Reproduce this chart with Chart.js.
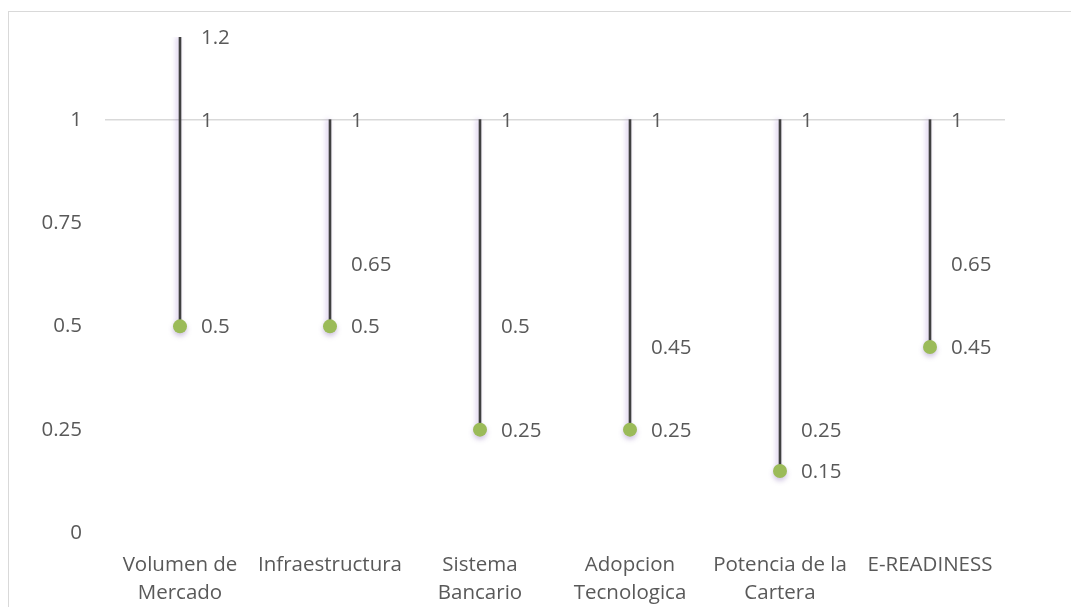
<!DOCTYPE html>
<html>
<head>
<meta charset="utf-8">
<script src="https://cdn.jsdelivr.net/npm/chart.js@4/dist/chart.umd.min.js"></script>
<style>
  html, body { margin: 0; padding: 0; background: #fff; }
  #wrap { position: relative; width: 1071px; height: 607px; overflow: hidden; }
  #frame { position: absolute; left: 8px; top: 11px; width: 1080px; height: 620px;
           border-top: 1.5px solid #d9d9d9; border-left: 1.5px solid #d9d9d9; }
  canvas { position: absolute; left: 0; top: 0; }
</style>
</head>
<body>
<div id="wrap">
  <div id="frame"></div>
  <canvas id="c" width="1071" height="607"></canvas>
</div>
<script>
// Categories and the three series of the high-low-close chart
const categories = [
  ['Volumen de', 'Mercado'],
  'Infraestructura',
  ['Sistema', 'Bancario'],
  ['Adopcion', 'Tecnologica'],
  ['Potencia de la', 'Cartera'],
  'E-READINESS'
];
const highValues  = [1.2, 1, 1, 1, 1, 1];
const lowValues   = [1, 0.65, 0.5, 0.45, 0.25, 0.65];
const closeValues = [0.5, 0.5, 0.25, 0.25, 0.15, 0.45];
const yTicks = [0, 0.25, 0.5, 0.75, 1];

const FONT = '"Open Sans", Lato, sans-serif';
const FONT_SIZE = 20.5;
const TEXT = '#595959';

// Vertical range for each category spans all three values
const ranges = categories.map((_, i) => {
  const v = [highValues[i], lowValues[i], closeValues[i]];
  return [Math.min(...v), Math.max(...v)];
});

// Value labels to the right of each stem
const valueLabels = {
  id: 'valueLabels',
  afterDatasetsDraw(chart) {
    const ctx = chart.ctx;
    const xs = chart.scales.x, ys = chart.scales.y;
    ctx.save();
    ctx.font = FONT_SIZE + 'px ' + FONT;
    ctx.fillStyle = TEXT;
    ctx.textAlign = 'left';
    ctx.textBaseline = 'middle';
    [highValues, lowValues, closeValues].forEach(series => {
      series.forEach((v, i) => {
        const x = xs.getPixelForValue(i) + 21;
        const y = ys.getPixelForValue(v) + 1;
        ctx.fillText(String(v), x, y);
      });
    });
    ctx.restore();
  }
};

// Soft shadow under stems and markers
const softShadow = {
  id: 'softShadow',
  beforeDatasetDraw(chart, args) {
    const ctx = chart.ctx;
    ctx.save();
    if (args.index === 0) {
      ctx.shadowColor = 'rgba(140,100,200,0.45)';
      ctx.shadowBlur = 5;
      ctx.shadowOffsetX = -2;
      ctx.shadowOffsetY = 0;
    } else {
      ctx.shadowColor = 'rgba(120,90,170,0.35)';
      ctx.shadowBlur = 5;
      ctx.shadowOffsetX = 0;
      ctx.shadowOffsetY = 3;
    }
  },
  afterDatasetDraw(chart) {
    chart.ctx.restore();
  }
};

new Chart(document.getElementById('c'), {
  data: {
    labels: categories,
    datasets: [
      {
        type: 'bar',
        data: ranges,
        backgroundColor: '#404040',
        borderWidth: 0,
        barThickness: 2,
        grouped: false,
        order: 2
      },
      {
        type: 'line',
        data: closeValues,
        showLine: false,
        pointRadius: 7,
        pointHoverRadius: 7,
        pointBackgroundColor: '#9bbb59',
        pointBorderWidth: 0,
        order: 1
      }
    ]
  },
  options: {
    responsive: false,
    animation: false,
    events: [],
    layout: { padding: { left: 0, right: 66, top: 37, bottom: 0 } },
    plugins: { legend: { display: false }, tooltip: { enabled: false } },
    scales: {
      x: {
        offset: true,
        grid: { display: false, drawTicks: false },
        border: { display: false },
        ticks: {
          color: TEXT,
          font: { family: FONT, size: FONT_SIZE, lineHeight: 28 / FONT_SIZE },
          maxRotation: 0,
          autoSkip: false,
          padding: 18
        },
        afterFit(axis) { axis.height = 74; }
      },
      y: {
        min: 0,
        max: 1.2,
        afterBuildTicks(axis) {
          axis.ticks = yTicks.map(v => ({ value: v }));
        },
        afterFit(axis) { axis.width = 105; },
        border: { display: false },
        grid: {
          color: ctx => (ctx.tick && ctx.tick.value === 1 ? '#d9d9d9' : 'rgba(0,0,0,0)'),
          lineWidth: 1.5,
          drawTicks: false
        },
        ticks: {
          color: TEXT,
          font: { family: FONT, size: FONT_SIZE },
          padding: 23,
          callback: v => String(v)
        }
      }
    }
  },
  plugins: [softShadow, valueLabels]
});
</script>
</body>
</html>
